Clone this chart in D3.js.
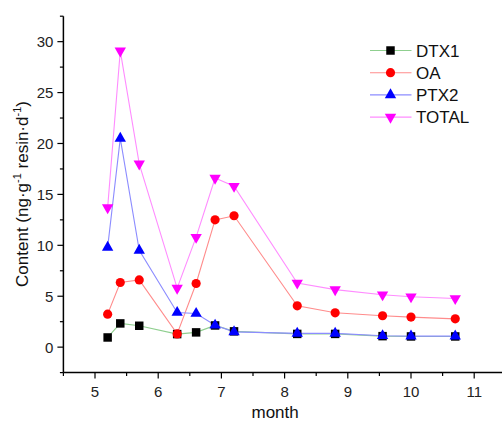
<!DOCTYPE html>
<html>
<head>
<meta charset="utf-8">
<script src="https://cdn.jsdelivr.net/npm/d3@7"></script>
<style>
  html, body { margin: 0; padding: 0; background: #fff; }
  svg { display: block; font-family: "Liberation Sans", Arial, sans-serif; }
</style>
</head>
<body>
<svg id="chart" width="502" height="423"></svg>
<script>
const months = [5.2, 5.4, 5.7, 6.3, 6.6, 6.9, 7.2, 8.2, 8.8, 9.55, 10.0, 10.7];
const DTX1  = [0.95, 2.33, 2.1, 1.28, 1.45, 2.13, 1.55, 1.3, 1.3, 1.08, 1.05, 1.05];
const OA    = [3.24, 6.35, 6.6, 1.3, 6.25, 12.5, 12.9, 4.06, 3.37, 3.08, 2.95, 2.78];
const PTX2  = [9.8, 20.5, 9.5, 3.4, 3.3, 2.15, 1.5, 1.35, 1.35, 1.12, 1.08, 1.08];
const TOTAL = [13.7, 29.1, 18.0, 5.8, 10.8, 16.6, 15.8, 6.3, 5.65, 5.15, 4.95, 4.78];
const seriesNames = ["DTX1", "OA", "PTX2", "TOTAL"];
const xTicks = [5, 6, 7, 8, 9, 10, 11];
const yTicks = [0, 5, 10, 15, 20, 25, 30];

const series = [
  { name: seriesNames[0], values: DTX1,  line: "#8fcf8f", fill: "#000000", sym: d3.symbolSquare,   size: 72, rot: 0 },
  { name: seriesNames[1], values: OA,    line: "#ff8c8c", fill: "#ff0000", sym: d3.symbolCircle,   size: 66, rot: 0 },
  { name: seriesNames[2], values: PTX2,  line: "#8c8cff", fill: "#0000ff", sym: d3.symbolTriangle, size: 56, rot: 0 },
  { name: seriesNames[3], values: TOTAL, line: "#ff8cff", fill: "#ff00ff", sym: d3.symbolTriangle, size: 56, rot: 180 }
];

const svg = d3.select("#chart");
const x = d3.scaleLinear().domain([4.5, 11.5]).range([63.4, 505.8]);
const y = d3.scaleLinear().domain([-2.5, 32.5]).range([372.6, 16.2]);

// Axes
const xAxis = svg.append("g").attr("transform", `translate(0,${y(-2.5)})`);
xAxis.append("line").attr("x1", x(4.5)).attr("x2", x(11.5)).attr("stroke", "#000").attr("stroke-width", 1.5);
const xMinor = d3.range(4.5, 11.6, 0.5).filter(v => !xTicks.includes(v));
xAxis.selectAll(".xmin").data(xMinor).join("line")
  .attr("x1", d => x(d)).attr("x2", d => x(d)).attr("y1", 0).attr("y2", 3.5)
  .attr("stroke", "#000").attr("stroke-width", 1.2);
xAxis.selectAll(".xmaj").data(xTicks).join("line")
  .attr("x1", d => x(d)).attr("x2", d => x(d)).attr("y1", 0).attr("y2", 6)
  .attr("stroke", "#000").attr("stroke-width", 1.2);
xAxis.selectAll(".xlab").data(xTicks).join("text")
  .attr("x", d => x(d)).attr("y", 24).attr("text-anchor", "middle")
  .attr("font-size", 15).attr("fill", "#222").text(d => d);

const yAxis = svg.append("g").attr("transform", `translate(${x(4.5)},0)`);
yAxis.append("line").attr("y1", y(-2.5)).attr("y2", y(32.5)).attr("stroke", "#000").attr("stroke-width", 1.5);
const yMinor = d3.range(-2.5, 32.6, 2.5).filter(v => !yTicks.includes(v));
yAxis.selectAll(".ymin").data(yMinor).join("line")
  .attr("y1", d => y(d)).attr("y2", d => y(d)).attr("x1", 0).attr("x2", -3.5)
  .attr("stroke", "#000").attr("stroke-width", 1.2);
yAxis.selectAll(".ymaj").data(yTicks).join("line")
  .attr("y1", d => y(d)).attr("y2", d => y(d)).attr("x1", 0).attr("x2", -6)
  .attr("stroke", "#000").attr("stroke-width", 1.2);
yAxis.selectAll(".ylab").data(yTicks).join("text")
  .attr("x", -10).attr("y", d => y(d)).attr("dy", "0.36em").attr("text-anchor", "end")
  .attr("font-size", 15).attr("fill", "#222").text(d => d);

// Axis titles
svg.append("text").attr("x", x(7.85)).attr("y", 418).attr("text-anchor", "middle")
  .attr("font-size", 17).attr("fill", "#111").text("month");
const yt = svg.append("text").attr("transform", `translate(28,194) rotate(-90)`)
  .attr("text-anchor", "middle").attr("font-size", 17).attr("fill", "#111");
yt.append("tspan").text("Content (ng·g");
yt.append("tspan").attr("font-size", 11).attr("dy", -7).text("-1");
yt.append("tspan").attr("dy", 7).text(" resin·d");
yt.append("tspan").attr("font-size", 11).attr("dy", -7).text("-1");
yt.append("tspan").attr("dy", 7).text(")");

// Lines and markers
const lineGen = d3.line().x(d => x(d[0])).y(d => y(d[1]));
series.forEach(s => {
  const pts = months.map((m, i) => [m, s.values[i]]);
  svg.append("path").datum(pts).attr("d", lineGen)
    .attr("fill", "none").attr("stroke", s.line).attr("stroke-width", 1.1);
});
series.forEach(s => {
  const pts = months.map((m, i) => [m, s.values[i]]);
  svg.selectAll(null).data(pts).join("path")
    .attr("d", d3.symbol().type(s.sym).size(s.size))
    .attr("transform", d => `translate(${x(d[0])},${y(d[1])}) rotate(${s.rot})`)
    .attr("fill", s.fill);
});

// Legend
const leg = svg.append("g");
series.forEach((s, i) => {
  const ly = 50.5 + i * 22.2;
  leg.append("line").attr("x1", 370).attr("x2", 411.5).attr("y1", ly).attr("y2", ly)
    .attr("stroke", s.line).attr("stroke-width", 1.1);
  leg.append("path").attr("d", d3.symbol().type(s.sym).size(s.size))
    .attr("transform", `translate(390.5,${ly}) rotate(${s.rot})`).attr("fill", s.fill);
  leg.append("text").attr("x", 416).attr("y", ly).attr("dy", "0.36em")
    .attr("font-size", 17).attr("fill", "#111").text(s.name);
});
</script>
</body>
</html>
